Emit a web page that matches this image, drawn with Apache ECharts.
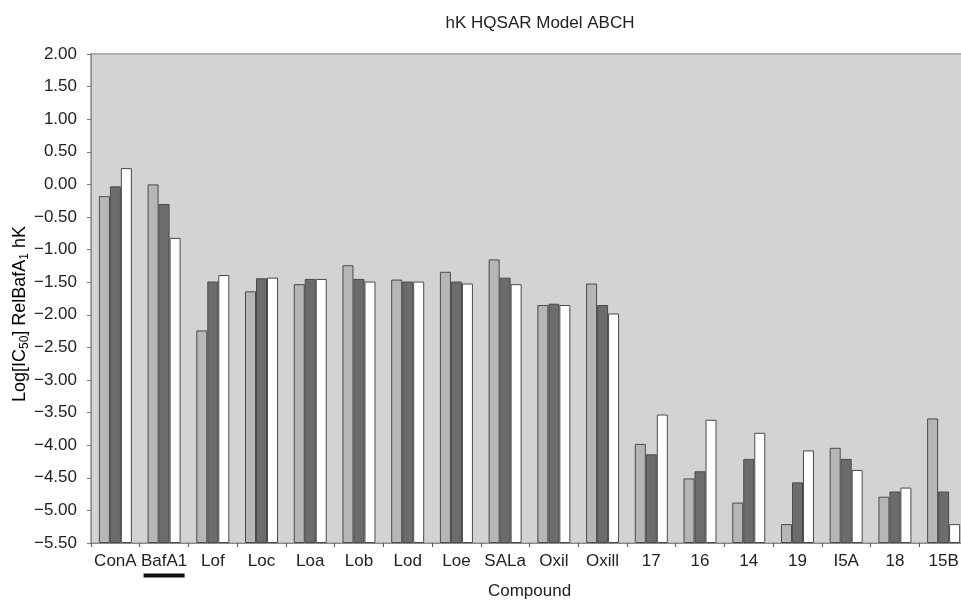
<!DOCTYPE html>
<html>
<head>
<meta charset="utf-8">
<script src="https://cdn.jsdelivr.net/npm/echarts@6/dist/echarts.min.js"></script>
<style>
  html, body { margin: 0; padding: 0; background: #ffffff; overflow: hidden; }
  /* the plot runs a few pixels past the right edge of the window */
  #chart { width: 968px; height: 601px; }
</style>
</head>
<body>
<div id="chart"></div>
<script>
// Compounds along the x axis
const categories = ['ConA', 'BafA1', 'Lof', 'Loc', 'Loa', 'Lob', 'Lod', 'Loe', 'SALa',
  'Oxil', 'Oxill', '17', '16', '14', '19', 'I5A', '18', '15B'];

// Log[IC50] RelBafA1 hK values, three model variants per compound
const seriesA = [-0.18, 0.00, -2.24, -1.64, -1.53, -1.24, -1.46, -1.34, -1.15,
  -1.85, -1.52, -3.98, -4.51, -4.88, -5.21, -4.04, -4.79, -3.59];
const seriesB = [-0.03, -0.30, -1.49, -1.44, -1.45, -1.45, -1.49, -1.49, -1.43,
  -1.83, -1.85, -4.14, -4.40, -4.21, -4.57, -4.21, -4.71, -4.71];
const seriesC = [0.25, -0.82, -1.39, -1.43, -1.45, -1.49, -1.49, -1.52, -1.53,
  -1.85, -1.98, -3.53, -3.61, -3.81, -4.08, -4.38, -4.65, -5.21];

// Value axis range
const yMin = -5.5;
const yMax = 2.0;
const yStep = 0.5;

const FONT = '"Liberation Sans", Arial, sans-serif';
const TEXT = '#222';
const chart = echarts.init(document.getElementById('chart'), null, { renderer: 'canvas' });

function barSeries(data, fill) {
  return {
    type: 'bar',
    data: data,
    barWidth: 11,
    barGap: '0%',
    itemStyle: { color: fill, borderColor: '#4a4a4a', borderWidth: 1 },
    emphasis: { disabled: true }
  };
}

chart.setOption({
  animation: false,
  title: {
    text: 'hK HQSAR Model ABCH',
    left: 535,
    top: 10,
    textAlign: 'center',
    textStyle: { fontFamily: FONT, fontSize: 17, fontWeight: 'normal', color: TEXT }
  },
  grid: {
    left: 91,
    right: 0,
    top: 54,
    bottom: 58,
    outerBoundsMode: 'none',
    show: true,
    backgroundColor: '#d2d3d5',
    borderColor: '#b0b1b3',
    borderWidth: 2,
    containLabel: false
  },
  xAxis: {
    type: 'category',
    data: categories,
    name: 'Compound',
    nameLocation: 'middle',
    nameGap: 40,
    nameMoveOverlap: false,
    nameTextStyle: { fontFamily: FONT, fontSize: 17, color: TEXT },
    axisLine: { onZero: false, lineStyle: { color: '#8a8a8a', width: 1 } },
    axisTick: { show: true, length: 4, lineStyle: { color: '#555' } },
    axisLabel: {
      margin: 10,
      interval: 0,
      fontFamily: FONT,
      fontSize: 17,
      color: TEXT,
      formatter: function (v) {
        return v === 'BafA1' ? '{t|' + v + '}\n{u|}' : '{t|' + v + '}';
      },
      rich: {
        t: { fontFamily: FONT, fontSize: 17, color: TEXT, lineHeight: 17 },
        u: { backgroundColor: '#111', width: 41, height: 4, lineHeight: 11 }
      }
    },
    splitLine: { show: false }
  },
  yAxis: {
    type: 'value',
    min: yMin,
    max: yMax,
    interval: yStep,
    startValue: yMin,
    axisLine: { show: true, lineStyle: { color: '#8a8a8a', width: 1 } },
    axisTick: { show: true, length: 4, lineStyle: { color: '#777' } },
    axisLabel: {
      margin: 14,
      fontFamily: FONT,
      fontSize: 17,
      color: TEXT,
      formatter: function (v) { return v.toFixed(2).replace('-', '\u2212'); }
    },
    splitLine: { show: false }
  },
  graphic: [{
    type: 'text',
    x: 20,
    y: 314,
    rotation: Math.PI / 2,
    style: {
      text: '{n|Log[IC}{s|50}{n|] RelBafA}{s|1}{n| hK}',
      align: 'center',
      verticalAlign: 'middle',
      rich: {
        n: { fontFamily: FONT, fontSize: 18, color: TEXT, lineHeight: 22 },
        s: { fontFamily: FONT, fontSize: 12, color: TEXT, lineHeight: 12, verticalAlign: 'bottom' }
      }
    }
  }],
  series: [
    barSeries(seriesA, '#b5b6b8'),
    barSeries(seriesB, '#6c6c6c'),
    barSeries(seriesC, '#ffffff')
  ]
});
</script>
</body>
</html>
